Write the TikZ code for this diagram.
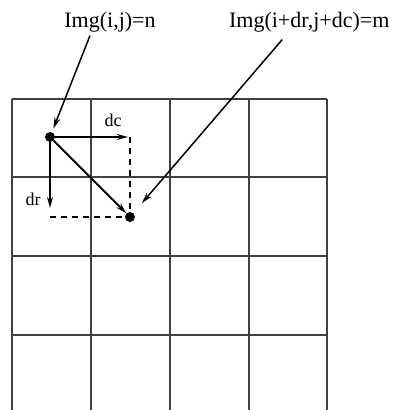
\documentclass[tikz,border=0pt]{standalone}
\usepackage{fontspec}
\setmainfont{Liberation Serif}
\usetikzlibrary{arrows.meta,positioning,calc}

\begin{document}
\begin{tikzpicture}[
  x=1pt, y=-1pt,
  font=\fontsize{22}{24}\selectfont,
  >={Stealth[length=11pt,width=6pt]},
  gridline/.style={line width=2pt, black!75},
  pixel/.style={circle, fill=black, inner sep=0pt, minimum size=10pt},
  offset/.style={->, line width=1.8pt},
  guide/.style={dashed, dash pattern=on 6pt off 5pt, line width=1.8pt},
  pointer/.style={->, line width=1.5pt},
]
\useasboundingbox (0,0) rectangle (392,410);
% 4x4 image grid
\foreach \gx in {12,91,170,249,327} \draw[gridline] (\gx,99) -- (\gx,414);
\foreach \gy in {99,177,256,335} \draw[gridline] (12,\gy) -- (327,\gy);
% the two pixels
\node[pixel] (src) at (50,137) {};
\node[pixel] (dst) at (130,217) {};
\coordinate (dccorner) at (130,137);
\coordinate (drcorner) at (50,217);
% labels
\node (lblsrc) at (110,22) {Img(i,j)=n};
\node[anchor=east] (lbldst) at (393,22) {Img(i+dr,j+dc)=m};
\node (dclbl) at (113,120) {\fontsize{18}{20}\selectfont dc};
\node (drlbl) at (33,199) {\fontsize{18}{20}\selectfont dr};
% offsets
\draw[offset] (src) -- ([xshift=-2pt]dccorner);
\draw[offset] (src) -- ([yshift=9pt]drcorner);
\draw[guide] (dccorner) -- (dst);
\draw[guide] (drcorner) -- (dst);
\draw[offset] (src) -- (dst);
% pointers from the labels
\draw[pointer, shorten >=4pt] ([xshift=-20pt]lblsrc.south) -- (src);
\draw[pointer, shorten >=13pt] ($(lbldst.south)+(-27pt,4)$) -- (dst);
\end{tikzpicture}
\end{document}
